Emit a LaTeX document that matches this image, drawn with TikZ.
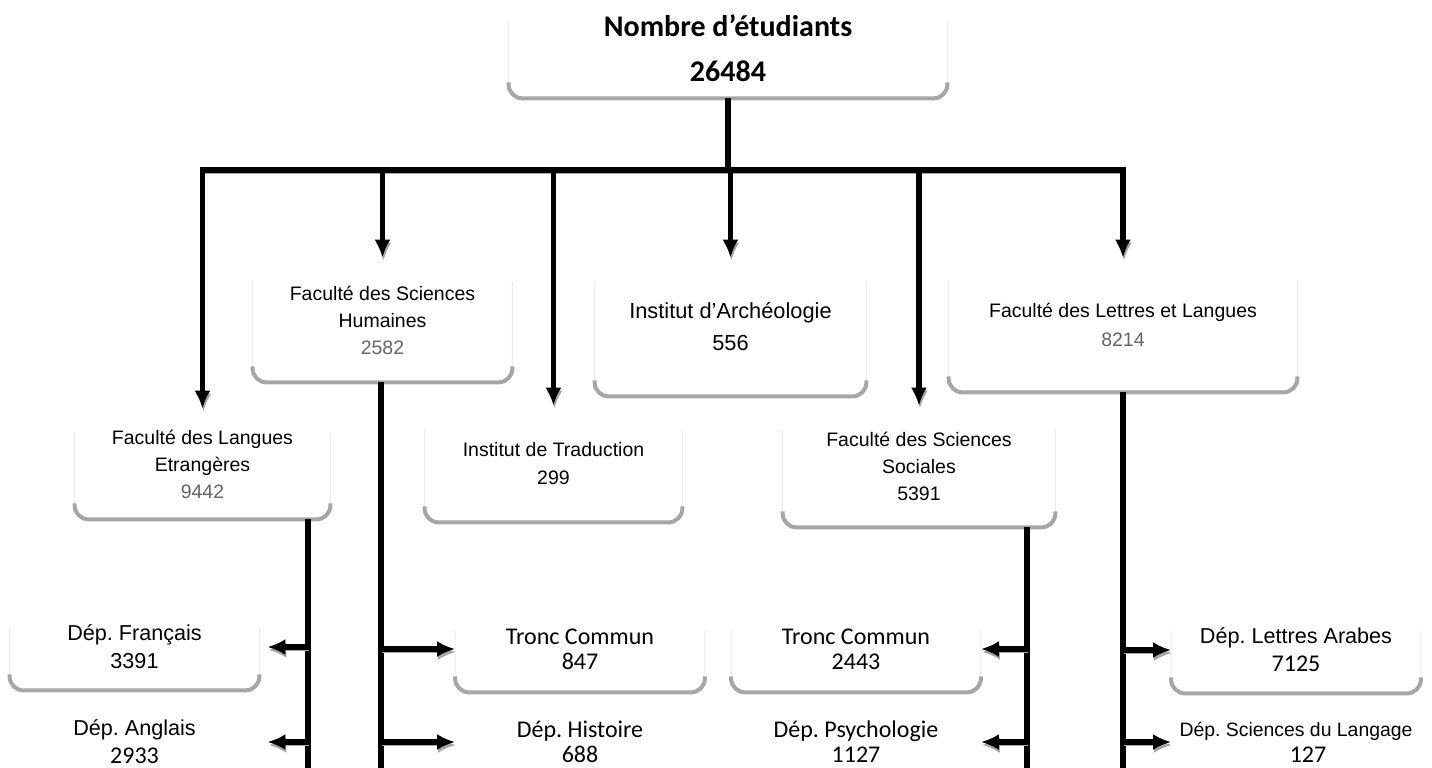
\documentclass[tikz,border=0pt]{standalone}
\usepackage{fontspec}
\setmainfont{Liberation Sans}
\newfontfamily\calib{Carlito}
\usetikzlibrary{positioning, arrows.meta}
\definecolor{numgray}{HTML}{666666}
\definecolor{edgegray}{HTML}{A6A6A6}
\frenchspacing

\tikzset{
  unit/.style={rectangle, rounded corners=7pt, fill=white, align=center, inner sep=0pt,
    font=\fontsize{9.75}{13.5}\selectfont},
  dept/.style={unit, minimum width=124.5pt, minimum height=43pt,
    font=\fontsize{10.8}{14}\selectfont},
  cal/.style={font=\calib\fontsize{12}{12.5}\selectfont},
  link/.style={line width=2.6pt, line cap=butt,
    preaction={draw=edgegray, transform canvas={xshift=0.5pt, yshift=-1.5pt}}},
  drop/.style={link, ->},
  branch/.style={link, ->},
  sideline/.style={draw=gray!15, line width=0.5pt},
  footline/.style={draw=edgegray, line width=2pt}
}

\newcommand{\boxfoot}[1]{%
  \draw[sideline, rounded corners=7pt] ([yshift=-12pt]#1.north west) -- (#1.south west)
    -- (#1.south east) -- ([yshift=-12pt]#1.north east);
  \draw[footline, rounded corners=7pt] ([yshift=8pt]#1.south west) -- (#1.south west)
    -- (#1.south east) -- ([yshift=8pt]#1.south east);}

\begin{document}
\begin{tikzpicture}[x=0.5pt, y=-0.5pt, >={Latex[length=9pt, width=8pt]}]
    \useasboundingbox (0,0) rectangle (1432,767);
    \clip (0,0) rectangle (1432,767);

    \node[unit, minimum width=219pt, minimum height=50pt,
          font=\calib\bfseries\fontsize{15}{22.5}\selectfont] (total) at (728,48) {Nombre d’étudiants\\26484};

    \node[unit, minimum width=129.5pt, minimum height=62pt] (sh) at (382.5,320)
        {Faculté des Sciences\\Humaines\\\textcolor{numgray}{2582}};
    \node[unit, minimum width=135.5pt, minimum height=69pt,
          font=\fontsize{10.9}{16}\selectfont] (arch) at (730.5,327) {Institut d’Archéologie\\556};
    \node[unit, minimum width=174pt, minimum height=67pt,
          font=\fontsize{9.75}{14.5}\selectfont] (ll) at (1123,325)
        {Faculté des Lettres et Langues\\\textcolor{numgray}{8214}};

    \node[unit, minimum width=127.5pt, minimum height=55pt] (le) at (202.5,464)
        {Faculté des Langues\\Etrangères\\\textcolor{numgray}{9442}};
    \node[unit, minimum width=128.5pt, minimum height=58pt,
          font=\fontsize{9.75}{14}\selectfont] (trad) at (553.5,464) {Institut de Traduction\\299};
    \node[unit, minimum width=136pt, minimum height=60.5pt] (ss) at (919,466.5)
        {Faculté des Sciences\\Sociales\\5391};

    \node[dept] (fr) at (134.5,647) {Dép. Français\\3391};
    \node[dept, cal] (tc1) at (580,649) {Tronc Commun\\847};
    \node[dept, cal] (tc2) at (856,649) {Tronc Commun\\2443};
    \node[dept] (ar) at (1296,650) {Dép. Lettres Arabes\\{\calib\fontsize{12}{12.5}\selectfont 7125}};

    \node[dept] (ang) at (134.5,742) {Dép. Anglais\\{\calib\fontsize{12}{12.5}\selectfont 2933}};
    \node[dept, cal] (hist) at (580,742) {Dép. Histoire\\688};
    \node[dept, cal] (psy) at (856,742) {Dép. Psychologie\\1127};
    \node[dept, font=\fontsize{9.7}{13}\selectfont] (sdl) at (1296,742)
        {Dép. Sciences du Langage\\\hspace*{12pt}{\calib\fontsize{12}{12.5}\selectfont 127}};

    \boxfoot{total} \boxfoot{sh} \boxfoot{arch} \boxfoot{ll}
    \boxfoot{le} \boxfoot{trad} \boxfoot{ss}
    \boxfoot{fr} \boxfoot{tc1} \boxfoot{tc2} \boxfoot{ar}

    \coordinate (bar) at (730,170);
    \coordinate (leEnd) at (308,780);
    \coordinate (shEnd) at (381,780);
    \coordinate (ssEnd) at (1027,780);
    \coordinate (llEnd) at (1123,780);

    \draw[link] (total) -- (total |- bar);
    \draw[link, line cap=rect] (le.north |- bar) -- (ll.north |- bar);
    \draw[drop] (le.north |- bar) -- (le);
    \draw[drop] (sh.north |- bar) -- (sh);
    \draw[drop] (trad.north |- bar) -- (trad);
    \draw[drop] (arch.north |- bar) -- (arch);
    \draw[drop] (ss.north |- bar) -- (ss);
    \draw[drop] (ll.north |- bar) -- (ll);

    \draw[link] (le.south -| leEnd) -- (leEnd);
    \draw[link] (sh.south -| shEnd) -- (shEnd);
    \draw[link] (ss.south -| ssEnd) -- (ssEnd);
    \draw[link] (ll.south -| llEnd) -- (llEnd);

    \draw[branch, shorten >=4pt] (fr -| leEnd) -- (fr);
    \draw[branch, shorten >=4pt] (ang -| leEnd) -- (ang);
    \draw[branch] (tc1 -| shEnd) -- (tc1);
    \draw[branch] (hist -| shEnd) -- (hist);
    \draw[branch] (tc2 -| ssEnd) -- (tc2);
    \draw[branch] (psy -| ssEnd) -- (psy);
    \draw[branch] (ar -| llEnd) -- (ar);
    \draw[branch] (sdl -| llEnd) -- (sdl);
\end{tikzpicture}
\end{document}
